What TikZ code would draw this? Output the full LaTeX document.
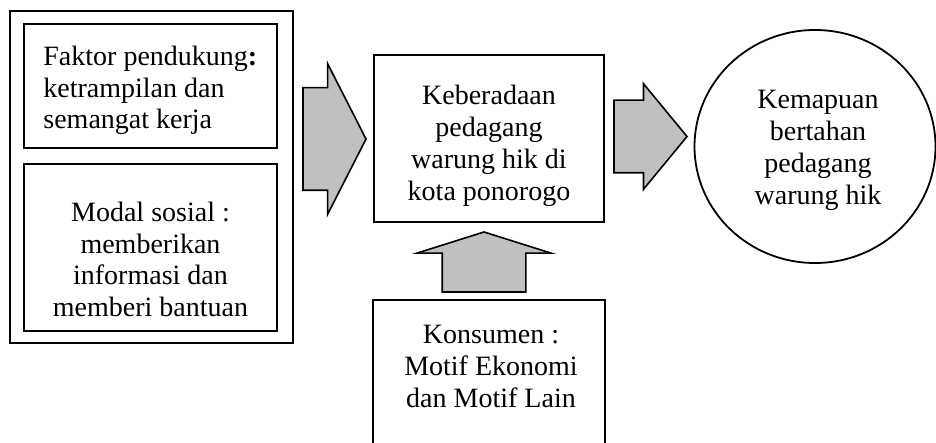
\documentclass[tikz,border=0pt]{standalone}
\usepackage{fontspec}
\setmainfont{Liberation Serif}
\usetikzlibrary{shapes.arrows,shapes.geometric}

\definecolor{arrowgray}{HTML}{C0C0C0}

\tikzset{
  box/.style={draw, line width=0.9pt, inner sep=0pt, outer sep=0pt},
  txt/.style={align=center, inner sep=0pt, font=\fontsize{14}{15.9}\selectfont},
  bigarrow/.style={draw, fill=arrowgray, line width=0.8pt, single arrow,
    inner xsep=0pt, outer sep=0pt, anchor=tail}
}

\begin{document}
\begin{tikzpicture}[x=0.5pt, y=-0.5pt]
  \useasboundingbox (0,0) rectangle (936,443);
  \clip (0,0) rectangle (936,443);
  % left column
  \node[box, minimum width=141.5pt, minimum height=166pt] (outer) at (151.5,177) {};
  \node[box, minimum width=126.5pt, minimum height=62pt] (faktor) at (150.5,86) {};
  \node[txt, align=left, anchor=west] (faktortxt) at (43,90.5)
    {Faktor pendukung\textbf{:}\\ketrampilan dan\\semangat kerja};
  \node[box, minimum width=126.5pt, minimum height=83.5pt] (modal) at (150.5,247.5) {};
  \node[txt] (modaltxt) at (150.5,259.5)
    {Modal sosial :\\memberikan\\informasi dan\\memberi bantuan};
  % middle
  \node[box, minimum width=115pt, minimum height=83.5pt] (ada) at (489,138.5) {};
  \node[txt] (adatxt) at (489,146)
    {Keberadaan\\pedagang\\warung hik di\\kota ponorogo};
  \node[box, minimum width=116pt, minimum height=90pt] (konsumen) at (489,390) {};
  \node[txt] (konsumentxt) at (491,366.5)
    {Konsumen :\\Motif Ekonomi\\dan Motif Lain};
  % right
  \node[box, ellipse, minimum width=120.5pt, minimum height=116.5pt] (mampu) at (815,146.5) {};
  \node[txt] (mamputxt) at (818,150.5)
    {Kemapuan\\bertahan\\pedagang\\warung hik};
  % block arrows
  \node[bigarrow, minimum height=31.5pt, inner ysep=25.25pt,
    single arrow head extend=12pt, single arrow tip angle=126] (pijak) at (303,139) {};
  \node[bigarrow, minimum height=36.5pt, inner ysep=17.75pt,
    single arrow head extend=8.25pt, single arrow tip angle=101] (hasil) at (614,136.5) {};
  \node[bigarrow, minimum height=30pt, inner ysep=20.5pt, rotate=90,
    single arrow head extend=12.5pt, single arrow tip angle=145] (dorong) at (484,292) {};
\end{tikzpicture}
\end{document}
